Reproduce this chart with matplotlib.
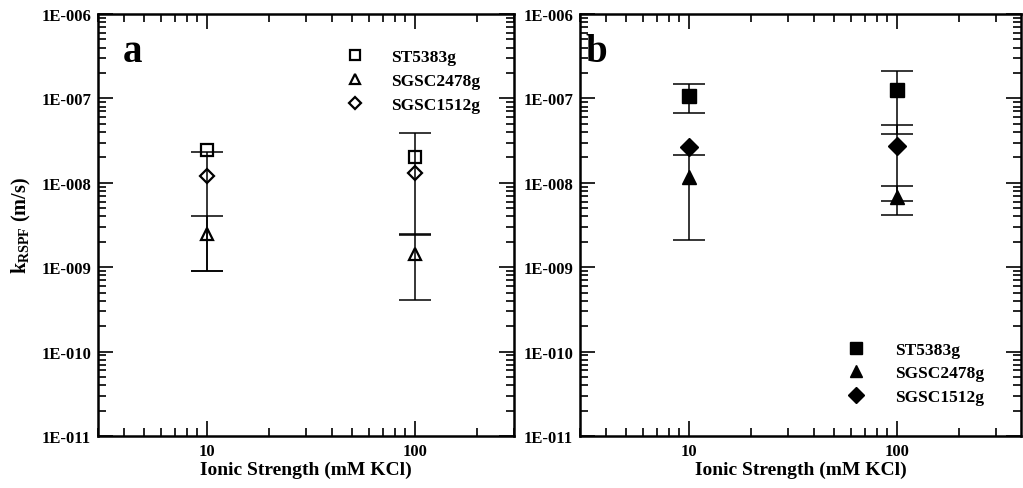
import numpy as np
import matplotlib
matplotlib.use("Agg")
import matplotlib.pyplot as plt
import matplotlib.ticker as mt

plt.rcParams['font.family'] = 'Liberation Serif'
plt.rcParams['font.weight'] = 'bold'
plt.rcParams['mathtext.fontset'] = 'custom'
plt.rcParams['mathtext.rm'] = 'Liberation Serif:bold'
plt.rcParams['mathtext.bf'] = 'Liberation Serif:bold'

# ionic strength (mM KCl)
ionic = [10, 100]
strains = ['ST5383g', 'SGSC2478g', 'SGSC1512g']
markers = ['s', '^', 'D']

# panel a: k_RSPF and error (m/s); nan = no error bar shown
a_st5383 = [2.45e-8, 2.04e-8]
a_st5383_err = [np.nan, 1.8e-8]
a_sgsc2478 = [2.47e-9, 1.43e-9]
a_sgsc2478_err = [1.58e-9, 1.02e-9]
a_sgsc1512 = [1.21e-8, 1.32e-8]
a_sgsc1512_err = [1.12e-8, np.nan]

# panel b
b_st5383 = [1.08e-7, 1.26e-7]
b_st5383_err = [0.41e-7, 0.88e-7]
b_sgsc2478 = [1.16e-8, 6.7e-9]
b_sgsc2478_err = [0.95e-8, 2.5e-9]
b_sgsc1512 = [2.63e-8, 2.75e-8]
b_sgsc1512_err = [np.nan, 2.14e-8]


def exp_fmt(v, pos):
    e = int(round(np.log10(v)))
    return "1E-%03d" % (-e)


def setup(ax, xmax):
    ax.set_xscale('log')
    ax.set_yscale('log')
    ax.set_xlim(3, xmax)
    ax.set_ylim(1e-11, 1e-6)
    ax.set_xticks([10, 100])
    ax.xaxis.set_major_formatter(mt.FixedFormatter(['10', '100']))
    ax.xaxis.set_minor_locator(mt.LogLocator(base=10, subs=np.arange(2, 10)))
    ax.xaxis.set_minor_formatter(mt.NullFormatter())
    ax.yaxis.set_major_locator(mt.LogLocator(base=10, numticks=10))
    ax.yaxis.set_minor_locator(mt.LogLocator(base=10, subs=np.arange(2, 10), numticks=20))
    ax.yaxis.set_major_formatter(mt.FuncFormatter(exp_fmt))
    ax.yaxis.set_minor_formatter(mt.NullFormatter())
    ax.tick_params(which='both', direction='in', top=True, right=True, width=1.2)
    ax.tick_params(which='major', length=10.5, labelsize=12, pad=5)
    ax.tick_params(which='minor', length=5.5)
    for s in ax.spines.values():
        s.set_linewidth(1.8)
    ax.set_xlabel('Ionic Strength (mM KCl)', fontsize=14, fontweight='bold', labelpad=1)


def draw(ax, series, errs, filled):
    handles = []
    for vals, err, m, name in zip(series, errs, markers, strains):
        ax.errorbar(ionic, vals, yerr=err, fmt='none', ecolor='black',
                    elinewidth=1.1, capsize=11.5, capthick=1.1)
        if filled:
            ms = 10.5 if m != 'D' else 9
            mew = 1.0
        else:
            ms = 8.5 if m != 'D' else 7.5
            mew = 1.6
        h, = ax.plot(ionic, vals, linestyle='none', marker=m, markersize=ms,
                     markeredgecolor='black', markeredgewidth=mew,
                     markerfacecolor='black' if filled else 'none', label=name)
        handles.append(h)
    return handles


fig = plt.figure(figsize=(10.23, 4.89), dpi=100)
W, H = 1023.0, 489.0
ax1 = fig.add_axes([98 / W, 1 - 437 / H, (514 - 98) / W, (437 - 15) / H])
ax2 = fig.add_axes([580 / W, 1 - 437 / H, (1021 - 580) / W, (437 - 15) / H])

setup(ax1, 300)
setup(ax2, 3 * 10 ** ((1021 - 580) / 416 * np.log10(100)))

h1 = draw(ax1, [a_st5383, a_sgsc2478, a_sgsc1512],
          [a_st5383_err, a_sgsc2478_err, a_sgsc1512_err], False)
h2 = draw(ax2, [b_st5383, b_sgsc2478, b_sgsc1512],
          [b_st5383_err, b_sgsc2478_err, b_sgsc1512_err], True)

ax1.set_ylabel('k$_{\\mathrm{RSPF}}$ (m/s)', fontsize=14.5, fontweight='bold', labelpad=6)

ax1.legend(handles=h1, loc='upper left', bbox_to_anchor=(0.55, 0.955), frameon=False,
           prop={'size': 12.5, 'weight': 'bold'}, handletextpad=1.3,
           labelspacing=0.45, handlelength=1.5, markerscale=0.85)
ax2.legend(handles=h2, loc='lower left', bbox_to_anchor=(0.56, 0.037), frameon=False,
           prop={'size': 12.5, 'weight': 'bold'}, handletextpad=1.5,
           labelspacing=0.42, handlelength=1.5, markerscale=0.85)

ax1.text(0.06, 0.91, 'a', transform=ax1.transAxes, fontsize=28, fontweight='bold',
         va='center', ha='left')
ax2.text(0.012, 0.91, 'b', transform=ax2.transAxes, fontsize=28, fontweight='bold',
         va='center', ha='left')

fig.savefig('out.png', dpi=100)
